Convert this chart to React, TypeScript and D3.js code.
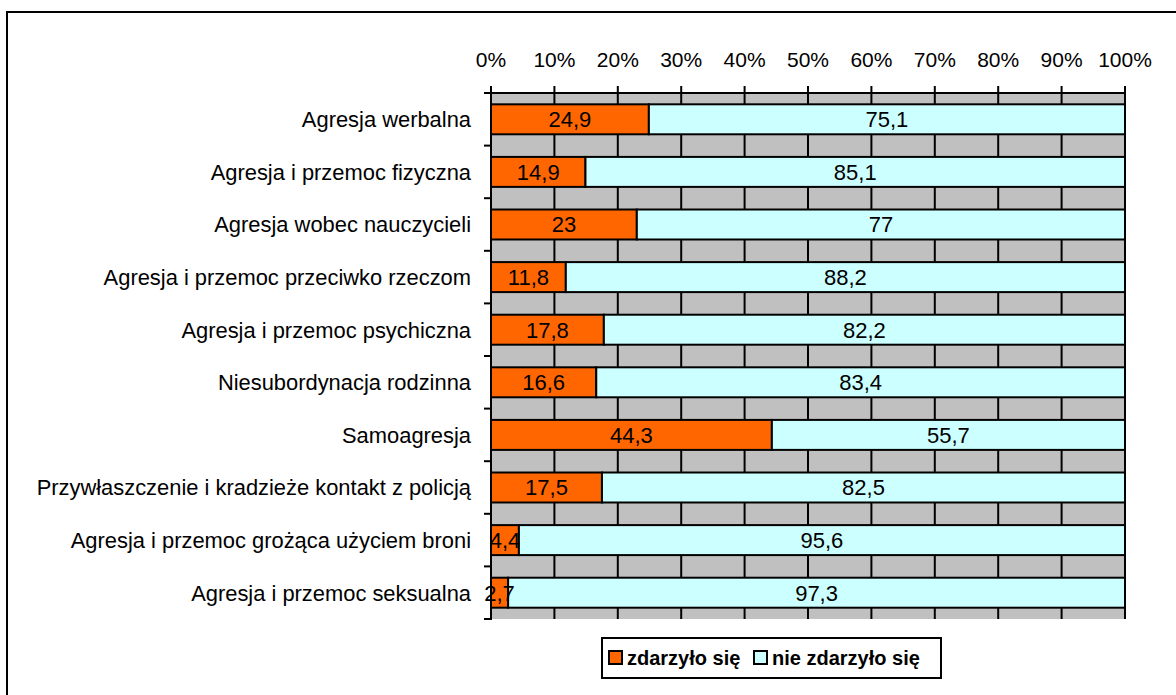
import React from "react";
import * as d3 from "d3";

const categories = [
  "Agresja werbalna",
  "Agresja i przemoc fizyczna",
  "Agresja wobec nauczycieli",
  "Agresja i przemoc przeciwko rzeczom",
  "Agresja i przemoc psychiczna",
  "Niesubordynacja rodzinna",
  "Samoagresja",
  "Przywłaszczenie i kradzieże kontakt z policją",
  "Agresja i przemoc grożąca użyciem broni",
  "Agresja i przemoc seksualna",
];
const happened = [24.9, 14.9, 23, 11.8, 17.8, 16.6, 44.3, 17.5, 4.4, 2.7];
const notHappened = [75.1, 85.1, 77, 88.2, 82.2, 83.4, 55.7, 82.5, 95.6, 97.3];
const seriesNames = ["zdarzyło się", "nie zdarzyło się"];
const seriesColors = ["#FF6600", "#CCFFFF"];
const xTicks = [0, 10, 20, 30, 40, 50, 60, 70, 80, 90, 100];

const W = 1176;
const H = 695;
const font = "'Liberation Sans', Arial, sans-serif";

const fmt = (v: number) => String(v).replace(".", ",");

export default function App() {
  const x = d3.scaleLinear().domain([0, 100]).range([491, 1125]);
  const y = d3
    .scaleBand<string>()
    .domain(categories)
    .range([93, 619])
    .paddingInner(0.43)
    .paddingOuter(0.215);

  const rows = categories.map((c, i) => ({ cat: c, a: happened[i], b: notHappened[i] }));
  const stacked = d3.stack<any>().keys(["a", "b"])(rows);
  const values = [happened, notHappened];

  const [x0, x1] = x.range();
  const [y0, y1] = y.range();
  const step = y.step();
  const bounds = d3.range(categories.length + 1).map((i) => y0 + i * step);

  return (
    <svg
      width={W}
      height={H}
      style={{ position: "absolute", left: 0, top: 0, display: "block", background: "#fff" }}
      fontFamily={font}
    >
      {/* outer frame, right and bottom edges run off the picture */}
      <rect x={7} y={12} width={W + 10} height={H + 10} fill="none" stroke="#000" strokeWidth={2} />

      {/* plot area + gridlines */}
      <rect x={x0} y={y0} width={x1 - x0 + 1} height={y1 - y0} fill="#C0C0C0" />
      {xTicks.map((t) => (
        <line key={"g" + t} x1={x(t)} x2={x(t)} y1={y0} y2={y1} stroke="#000" strokeWidth={2} />
      ))}

      {/* bars */}
      {stacked.map((s, si) =>
        s.map((d, i) => (
          <rect
            key={si + "-" + i}
            x={x(d[0])}
            y={y(categories[i])!}
            width={x(d[1]) - x(d[0])}
            height={y.bandwidth()}
            fill={seriesColors[si]}
            stroke="#000"
            strokeWidth={2}
          />
        ))
      )}
      {stacked.map((s, si) =>
        s.map((d, i) => (
          <text
            key={"t" + si + "-" + i}
            x={(x(d[0]) + x(d[1])) / 2}
            y={y(categories[i])! + y.bandwidth() / 2}
            dy="0.36em"
            textAnchor="middle"
            fontSize={22}
            fill="#000"
          >
            {fmt(values[si][i])}
          </text>
        ))
      )}

      {/* top axis */}
      <line x1={x0 - 1} x2={x1 + 1} y1={y0} y2={y0} stroke="#000" strokeWidth={2} />
      {xTicks.map((t) => (
        <g key={"tk" + t}>
          <line x1={x(t)} x2={x(t)} y1={y0} y2={y0 - 7} stroke="#000" strokeWidth={2} />
          <text x={x(t)} y={67} textAnchor="middle" fontSize={21} fill="#000">
            {t + "%"}
          </text>
        </g>
      ))}

      {/* left axis */}
      <line x1={x0} x2={x0} y1={y0 - 1} y2={y1 + 1} stroke="#000" strokeWidth={2} />
      {bounds.map((b, i) => (
        <line key={"lb" + i} x1={x0 - 7} x2={x0} y1={b} y2={b} stroke="#000" strokeWidth={2} />
      ))}
      {categories.map((c) => (
        <text
          key={c}
          x={471}
          y={y(c)! + y.bandwidth() / 2}
          dy="0.36em"
          textAnchor="end"
          fontSize={21.9}
          fill="#000"
        >
          {c}
        </text>
      ))}

      {/* legend */}
      <rect x={602} y={638} width={339} height={40} fill="#fff" stroke="#000" strokeWidth={2} />
      {seriesNames.map((n, i) => {
        const lx = i === 0 ? 609 : 754;
        return (
          <g key={n}>
            <rect x={lx} y={651} width={13} height={13} fill={seriesColors[i]} stroke="#000" strokeWidth={2} />
            <text x={lx + 18} y={665} fontSize={20} fontWeight="bold" fill="#000">
              {n}
            </text>
          </g>
        );
      })}
    </svg>
  );
}
